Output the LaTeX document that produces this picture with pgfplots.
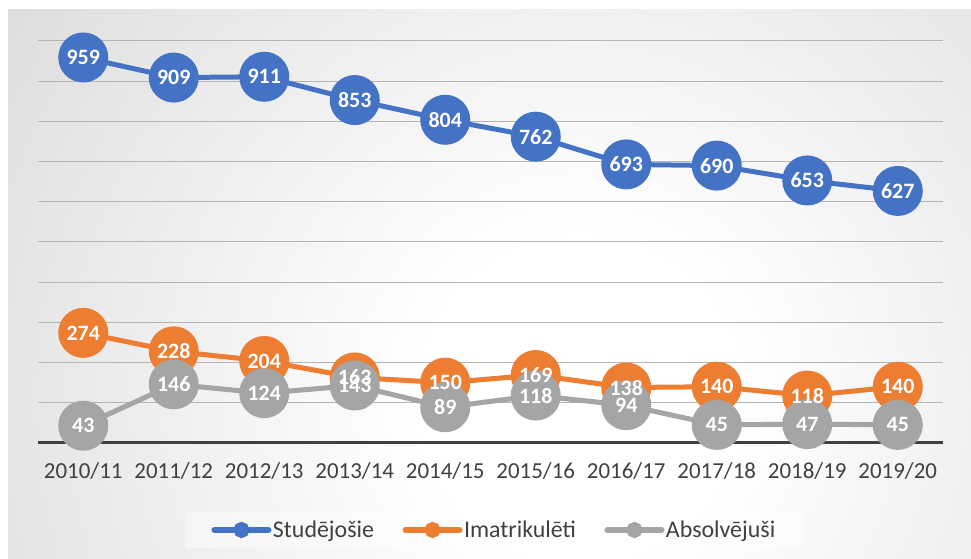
\documentclass[border=0pt]{standalone}
\usepackage{pgfplots}
\pgfplotsset{compat=1.18}
\usepackage{fontspec}
\setmainfont{Carlito}
\definecolor{cblue}{HTML}{4472C4}
\definecolor{corange}{HTML}{ED7D31}
\definecolor{cgray}{HTML}{A5A5A5}
\definecolor{bggray}{RGB}{192,192,192}
\definecolor{gridgray}{RGB}{180,180,180}
\definecolor{ticktext}{HTML}{404040}
\pgfdeclareradialshading{bgshade}{\pgfpoint{0bp}{0bp}}{color(0bp)=(white); color(4bp)=(white); color(29bp)=(bggray); color(100bp)=(bggray)}
\begin{document}
\begin{tikzpicture}[x=1bp,y=1bp]
\path[use as bounding box] (0,0) rectangle (971,559);
\fill[white] (0,0) rectangle (971,559);
\begin{scope}
\clip (8,0) rectangle (971,549);
\shade[shading=bgshade] (580,160) circle (1000);
\end{scope}
\begin{axis}[
  at={(38bp,116bp)}, anchor=south west, scale only axis,
  width=905bp, height=402bp,
  xmin=-0.5, xmax=9.5, ymin=0, ymax=1000,
  clip=false,
  axis line style={draw=none},
  major tick length=0pt,
  ymajorgrids,
  grid style={color=gridgray, line width=1bp},
  ytick={100,200,...,1000},
  yticklabel=\empty,
  extra y ticks={0},
  extra y tick style={grid style={color=black!75, line width=3bp}, yticklabel=\empty},
  xtick={0,...,9},
  xticklabels={2010/11,2011/12,2012/13,2013/14,2014/15,2015/16,2016/17,2017/18,2018/19,2019/20},
  xticklabel style={font=\fontsize{23}{23}\selectfont, text=ticktext, yshift=-16bp},
  /pgf/number format/assume math mode=true,
  legend columns=3,
  legend style={at={(0.504,-0.2164)}, anchor=center, draw=none, fill=white, fill opacity=0.4, text opacity=1,
    font=\fontsize{24}{24}\selectfont, text=ticktext, inner xsep=26bp, inner ysep=6bp,
    nodes={inner xsep=1.5bp, inner ysep=3bp},
    /tikz/every even column/.append style={column sep=27bp}},
  legend image code/.code={\draw[line width=6bp, line cap=round] (1bp,0bp) -- (55bp,0bp); \fill (28bp,0bp) circle (5.5bp);},
  labelstyle/.style={draw=none, mark=none, forget plot, nodes near coords, nodes near coords align=center,
    point meta=y,
    every node near coord/.append style={anchor=center, text=white, font=\fontsize{22}{22}\selectfont\bfseries,
      /pgf/number format/fixed, /pgf/number format/precision=0}},
]
\addplot[cblue, line width=5bp, mark=*, mark size=22.5bp, mark options={fill=cblue, draw=none}]
  coordinates {(0,959) (1,909) (2,911) (3,853) (4,804) (5,762) (6,693) (7,690) (8,653) (9,627)};
\addlegendentry{Studējošie}
\addplot[corange, line width=5bp, mark=*, mark size=22.5bp, mark options={fill=corange, draw=none}]
  coordinates {(0,274) (1,228) (2,204) (3,163) (4,150) (5,169) (6,138) (7,140) (8,118) (9,140)};
\addlegendentry{Imatrikulēti}
\addplot[cgray, line width=5bp, mark=*, mark size=22.5bp, mark options={fill=cgray, draw=none}]
  coordinates {(0,43) (1,146) (2,124) (3,143) (4,89) (5,118) (6,94) (7,45) (8,47) (9,45)};
\addlegendentry{Absolvējuši}
\addplot[labelstyle] coordinates {(0,959) (1,909) (2,911) (3,853) (4,804) (5,762) (6,693) (7,690) (8,653) (9,627)};
\addplot[labelstyle] coordinates {(0,274) (1,228) (2,204) (3,163) (4,150) (5,169) (6,138) (7,140) (8,118) (9,140)};
\addplot[labelstyle] coordinates {(0,43) (1,146) (2,124) (3,143) (4,89) (5,118) (6,94) (7,45) (8,47) (9,45)};
\end{axis}
\end{tikzpicture}
\end{document}
